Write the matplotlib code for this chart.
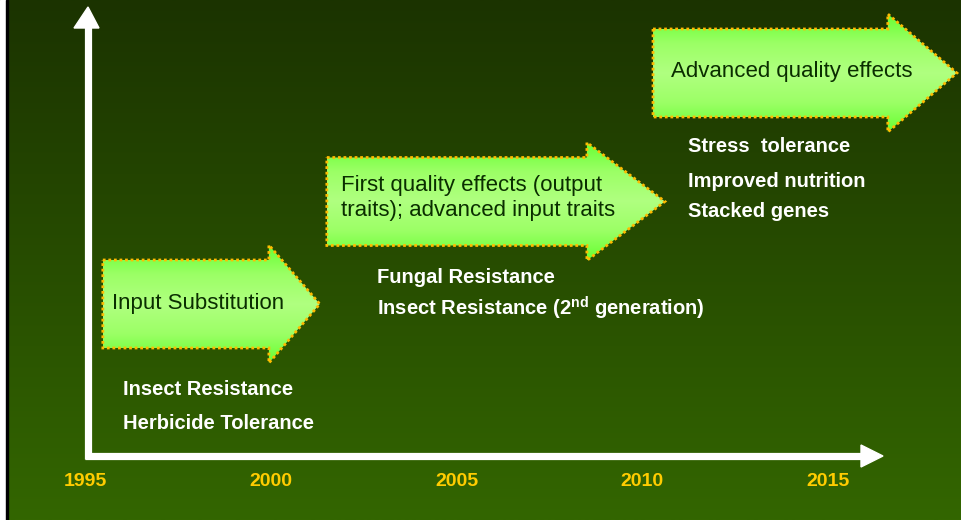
import numpy as np
import matplotlib
matplotlib.use("Agg")
import matplotlib.pyplot as plt
from matplotlib.patches import Polygon
from matplotlib.colors import LinearSegmentedColormap

# ---- data ----
years = [1995, 2000, 2005, 2010, 2015]
phase_labels = ["Input Substitution",
                "First quality effects (output\ntraits); advanced input traits",
                "Advanced quality effects"]
phase_start = [1995.48, 2001.51, 2010.29]   # arrow body start (year)
phase_end = [1999.95, 2008.51, 2016.61]     # arrow head base (year)
phase_tip = [2001.32, 2010.61, 2018.47]     # arrow tip (year)
phase_traits = [["Insect Resistance", "Herbicide Tolerance"],
                ["Fungal Resistance",
                 r"Insect Resistance (2$^{\mathbf{nd}}$ generation)"],
                ["Stress  tolerance", "Improved nutrition", "Stacked genes"]]

# ---- layout helpers (pixel <-> year) ----
W, H = 961, 520
PX0, PXPERYR = 85.0, 37.15


def yr(px):
    return 1995 + (px - PX0) / PXPERYR


plt.rcParams['mathtext.fontset'] = 'custom'
plt.rcParams['mathtext.rm'] = 'Liberation Sans'
plt.rcParams['mathtext.bf'] = 'Liberation Sans:bold'
FONT = ['Liberation Sans', 'DejaVu Sans']

fig = plt.figure(figsize=(W / 100, H / 100), dpi=100)
ax = fig.add_axes([0, 0, 1, 1])
ax.set_xlim(yr(0), yr(W))
ax.set_ylim(H, 0)
ax.axis('off')

# background gradient
bg = LinearSegmentedColormap.from_list('bg', ['#1b3300', '#336600'])
grad = np.linspace(0, 1, 256).reshape(-1, 1)
ax.imshow(grad, cmap=bg, extent=[yr(0), yr(W), H, 0], aspect='auto',
          zorder=0, interpolation='bilinear')

# left border: white strip + black line
ax.axvspan(yr(0), yr(6), color='white', zorder=1)
ax.axvspan(yr(6), yr(8), color='black', zorder=1)

# axes arrows (white)
ax.plot([yr(88), yr(88)], [459, 26], color='white', lw=5.2,
        solid_capstyle='butt', zorder=2)
ax.add_patch(Polygon([[yr(74), 28], [yr(88), 7], [yr(99), 28]],
                     closed=True, color='white', zorder=2))
ax.plot([yr(85), yr(863)], [456, 456], color='white', lw=5.2,
        solid_capstyle='butt', zorder=2)
ax.add_patch(Polygon([[yr(861), 445], [yr(883), 456], [yr(861), 467]],
                     closed=True, color='white', zorder=2))

# year labels
for y in years:
    ax.text(y, 481, str(y), color='#ffcc00', fontsize=14, fontweight='bold',
            family=FONT, ha='center', va='center', zorder=3)

# phase arrows
centers = [304, 201.5, 73]
body_h, head_h = 44, 59
agrad = LinearSegmentedColormap.from_list(
    'ag', ['#66ff33', '#9cff66', '#b0ff80', '#9cff66', '#66ff33'])
for i in range(3):
    cy = centers[i]
    x0, x1, xt = phase_start[i], phase_end[i], phase_tip[i]
    pts = [[x0, cy - body_h], [x1, cy - body_h], [x1, cy - head_h],
           [xt, cy], [x1, cy + head_h], [x1, cy + body_h], [x0, cy + body_h]]
    poly = Polygon(pts, closed=True, facecolor='none', edgecolor='none',
                   zorder=4)
    ax.add_patch(poly)
    im = ax.imshow(grad, cmap=agrad, extent=[x0, xt, cy + head_h, cy - head_h],
                   aspect='auto', zorder=4, interpolation='bilinear')
    im.set_clip_path(poly)
    border = Polygon(pts, closed=True, facecolor='none', edgecolor='#ffbb00',
                     lw=2.0, linestyle=(0, (1, 1)), zorder=5)
    ax.add_patch(border)

# labels inside arrows
ax.text(yr(112), 303, phase_labels[0], color='#0a2e00', fontsize=16,
        family=FONT, ha='left', va='center', zorder=6)
ax.text(yr(341), 198, phase_labels[1], color='#0a2e00', fontsize=16,
        family=FONT, ha='left', va='center', zorder=6, linespacing=1.3)
ax.text(yr(671), 71, phase_labels[2], color='#0a2e00', fontsize=16,
        family=FONT, ha='left', va='center', zorder=6)

# trait lists (white)
trait_x = [123, 377, 688]
trait_base = [[395, 429], [283, 315], [152, 187, 217]]
for i in range(3):
    for t, ty in zip(phase_traits[i], trait_base[i]):
        ax.text(yr(trait_x[i]), ty, t, color='white', fontsize=14.5,
                fontweight='bold', family=FONT, ha='left', va='baseline',
                zorder=6)

fig.savefig('out.png', dpi=100)
